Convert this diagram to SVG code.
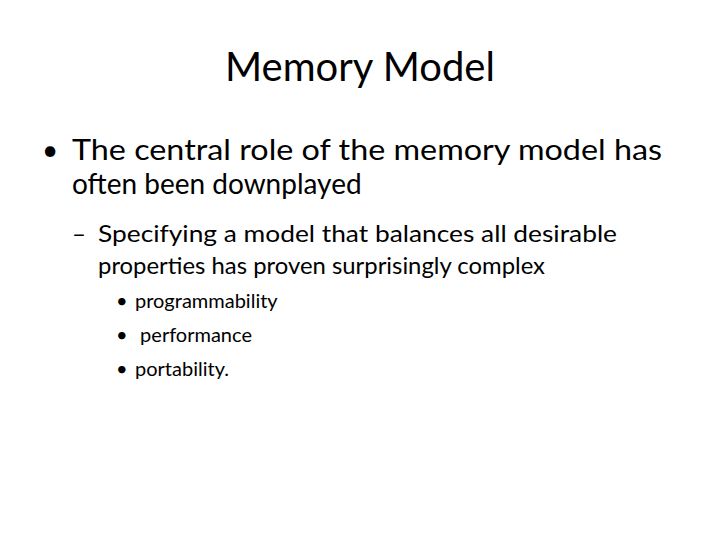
<svg xmlns="http://www.w3.org/2000/svg" width="720" height="540" viewBox="0 0 720 540">
<style>text{font-family:Lato,"Open Sans",sans-serif;fill:#000}.t{font-size:40px}.a{font-size:28px}.b{font-size:24px}.c{font-size:20px}</style>
<rect width="720" height="540" fill="#fff"/>
<g id="title"><text class="t" x="360" y="81" text-anchor="middle">Memory Model</text></g>
<g id="l1">
<text class="a" x="42" y="160">•</text>
<text class="a" x="72" y="160" textLength="590" lengthAdjust="spacingAndGlyphs">The central role of the memory model has</text>
<text class="a" x="72" y="194">often been downplayed</text>
</g>
<g id="l2">
<text class="b" x="72" y="242">–</text>
<text class="b" x="98" y="242" textLength="519" lengthAdjust="spacingAndGlyphs">Specifying a model that balances all desirable</text>
<text class="b" x="98" y="274" textLength="447" lengthAdjust="spacingAndGlyphs">properties has proven surprisingly complex</text>
</g>
<g id="l3">
<text class="c" x="116" y="308">•</text><text class="c" x="135" y="308">programmability</text>
<text class="c" x="116" y="342">•</text><text class="c" x="135" y="342" xml:space="preserve"> performance</text>
<text class="c" x="116" y="376">•</text><text class="c" x="135" y="376">portability.</text>
</g>
</svg>
